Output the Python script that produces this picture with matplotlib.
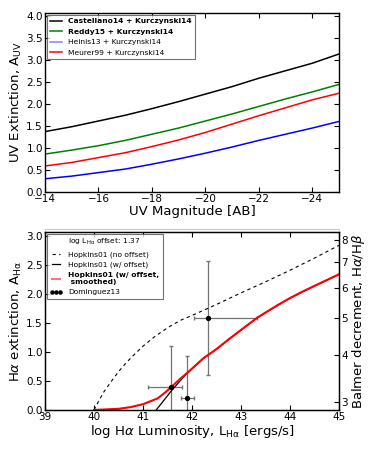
import numpy as np
import matplotlib
matplotlib.use("Agg")
import matplotlib.pyplot as plt
from matplotlib.lines import Line2D

# --- top panel: UV extinction vs UV magnitude ---
muv = [-14, -15, -16, -17, -18, -19, -20, -21, -22, -23, -24, -25]
auv_castellano = [1.37, 1.48, 1.61, 1.74, 1.89, 2.05, 2.22, 2.39, 2.58, 2.75, 2.92, 3.13]
auv_reddy = [0.86, 0.95, 1.05, 1.17, 1.31, 1.45, 1.61, 1.77, 1.94, 2.11, 2.27, 2.44]
auv_heinis = [0.30, 0.36, 0.44, 0.52, 0.63, 0.75, 0.88, 1.02, 1.17, 1.31, 1.45, 1.60]
auv_meurer = [0.59, 0.67, 0.78, 0.89, 1.03, 1.18, 1.35, 1.54, 1.73, 1.91, 2.09, 2.24]

# --- bottom panel: Halpha extinction vs log L(Halpha) ---
lha_nooff = [40.0, 40.1, 40.2, 40.35, 40.5, 40.65, 40.85, 41.0, 41.2, 41.4, 41.6, 41.8, 42.0,
             42.5, 43.0, 43.5, 44.0, 44.5, 45.0]
aha_nooff = [0.0, 0.16, 0.31, 0.49, 0.66, 0.81, 0.98, 1.10, 1.24, 1.36, 1.47, 1.56, 1.63,
             1.82, 2.02, 2.21, 2.41, 2.62, 2.84]

lha_off = [41.27, 41.57, 41.86, 42.23, 42.5, 43.0, 43.33, 43.5, 44.0, 44.5, 45.0]
aha_off = [0.0, 0.32, 0.60, 0.89, 1.05, 1.38, 1.59, 1.68, 1.93, 2.14, 2.34]

lha_smooth = [40.0, 40.5, 40.75, 41.0, 41.15, 41.3, 41.45, 41.57, 41.75, 41.93, 42.1, 42.23,
              42.5, 42.75, 43.0, 43.33, 43.5, 43.75, 44.0, 44.25, 44.5, 44.75, 45.0]
aha_smooth = [0.0, 0.02, 0.05, 0.10, 0.15, 0.20, 0.30, 0.39, 0.53, 0.66, 0.79, 0.89,
              1.05, 1.22, 1.38, 1.59, 1.68, 1.81, 1.93, 2.04, 2.14, 2.24, 2.34]

dom_lha = [41.57, 41.90, 42.33]
dom_aha = [0.40, 0.20, 1.59]
dom_xlo = [41.10, 41.78, 42.04]
dom_xhi = [41.80, 42.05, 43.33]
dom_ylo = [-0.3, -0.5, 0.60]
dom_yhi = [1.10, 0.93, 2.57]

balmer_ticks = [3, 4, 5, 6, 7, 8]

plt.rcParams['font.family'] = 'DejaVu Sans'
plt.rcParams['mathtext.fontset'] = 'dejavusans'
plt.rcParams['xtick.direction'] = 'in'
plt.rcParams['ytick.direction'] = 'in'
plt.rcParams['xtick.top'] = True
plt.rcParams['ytick.right'] = True

fig = plt.figure(figsize=(3.74, 4.49), dpi=100)

# top axes
ax1 = fig.add_axes([0.1203, 0.5724, 0.7861, 0.3987])
ax1.plot(muv, auv_castellano, color='black', lw=1.1, label='Castellano14 + Kurczynski14')
ax1.plot(muv, auv_reddy, color='green', lw=1.1, label='Reddy15 + Kurczynski14')
ax1.plot(muv, auv_heinis, color='blue', lw=1.1, label='Heinis13 + Kurczynski14')
ax1.plot(muv, auv_meurer, color='red', lw=1.1, label='Meurer99 + Kurczynski14')
ax1.set_xlim(-14, -25)
ax1.set_ylim(0, 4.06)
ax1.set_yticks(np.arange(0, 4.01, 0.5))
ax1.set_xticks([-14, -16, -18, -20, -22, -24])
ax1.set_xticklabels(['\u221214', '\u221216', '\u221218', '\u221220', '\u221222', '\u221224'])
ax1.tick_params(labelsize=7.5, length=3.5, width=0.8, pad=1.5)
ax1.set_xlabel('UV Magnitude [AB]', fontsize=9.5, labelpad=1)
ax1.set_ylabel(r'UV Extinction, A$_{\mathrm{UV}}$', fontsize=9.5, labelpad=2)
leg1 = ax1.legend(loc='upper left', fontsize=5.4, frameon=True, fancybox=False,
                  borderaxespad=0.25, handlelength=1.6, labelspacing=0.55, borderpad=0.45)
leg1.get_frame().set_edgecolor('0.3')
leg1.get_frame().set_linewidth(0.8)
texts = leg1.get_texts()
texts[0].set_fontweight('bold')
texts[1].set_fontweight('bold')
leg1.get_lines()[2].set_alpha(0.5)
for sp in ax1.spines.values():
    sp.set_linewidth(1.0)

# separator line between panels
fig.add_artist(Line2D([0.1203, 0.9064], [0.489, 0.489], color='0.78', lw=0.8))

# bottom axes
ax2 = fig.add_axes([0.1203, 0.0869, 0.7861, 0.3964])
ax2.plot([], [], ' ', label=r'log L$_{\mathrm{H\alpha}}$ offset: 1.37')
ax2.plot(lha_nooff, aha_nooff, color='black', lw=0.8, ls=(0, (3, 3)), label='Hopkins01 (no offset)')
ax2.plot(lha_off, aha_off, color='black', lw=0.9, label='Hopkins01 (w/ offset)')
ax2.plot(lha_smooth, aha_smooth, color='red', lw=1.5, label='Hopkins01 (w/ offset,\n smoothed)')
xerr = [np.array(dom_lha) - np.array(dom_xlo), np.array(dom_xhi) - np.array(dom_lha)]
yerr = [np.array(dom_aha) - np.array(dom_ylo), np.array(dom_yhi) - np.array(dom_aha)]
ax2.errorbar(dom_lha, dom_aha, xerr=xerr, yerr=yerr, fmt='none', ecolor='0.45',
             elinewidth=0.9, capsize=1.5, zorder=1)
ax2.plot(dom_lha, dom_aha, 'o', color='black', ms=2.8, label='Dominguez13', zorder=5)
ax2.set_xlim(39, 45)
ax2.set_ylim(0, 3.07)
ax2.set_yticks(np.arange(0, 3.01, 0.5))
ax2.tick_params(labelsize=7.5, length=3.5, width=0.8, pad=1.5)
ax2.tick_params(axis='y', right=False)
ax2.set_xlabel(r'log H$\alpha$ Luminosity, L$_{\mathrm{H\alpha}}$ [ergs/s]', fontsize=9.5, labelpad=1)
ax2.set_ylabel(r'H$\alpha$ extinction, A$_{\mathrm{H\alpha}}$', fontsize=9.5, labelpad=2)
leg2 = ax2.legend(loc='upper left', fontsize=5.4, frameon=True, fancybox=False, numpoints=3,
                  markerscale=0.8, borderaxespad=0.25, handlelength=1.6, labelspacing=0.5,
                  borderpad=0.45)
leg2.get_frame().set_edgecolor('0.3')
leg2.get_frame().set_linewidth(0.8)
leg2.get_texts()[3].set_fontweight('bold')
leg2.get_lines()[3].set_alpha(0.55)
for sp in ax2.spines.values():
    sp.set_linewidth(1.0)

# right axis: Balmer decrement
ax3 = ax2.twinx()
ax3.set_ylim(ax2.get_ylim())
ax3.set_yticks([6.55 * np.log10(b / 2.86) for b in balmer_ticks])
ax3.set_yticklabels([str(b) for b in balmer_ticks])
ax3.tick_params(labelsize=7.5, length=3.5, width=0.8, pad=1.5, direction='in')
ax3.set_ylabel(r'Balmer decrement, H$\alpha$/H$\beta$', fontsize=9.5, labelpad=2)

fig.savefig('out.png', dpi=100)
